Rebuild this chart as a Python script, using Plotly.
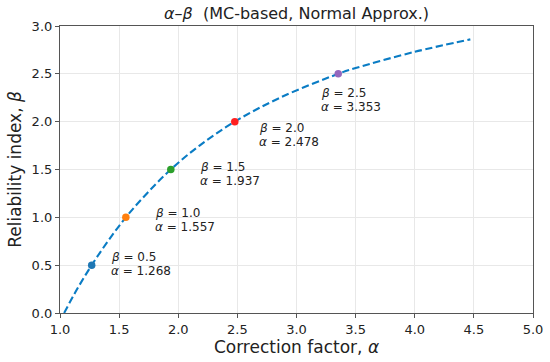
import plotly.graph_objects as go

# Curve
curve_beta = [0.0, 0.25, 0.5, 0.75, 1.0, 1.25, 1.5, 1.75, 2.0, 2.25, 2.5, 2.56, 2.73, 2.86]
curve_alpha = [1.035, 1.145, 1.268, 1.405, 1.557, 1.735, 1.937, 2.18, 2.478, 2.86, 3.353, 3.5, 4.0, 4.47]

# Highlighted points
pt_beta = [0.5, 1.0, 1.5, 2.0, 2.5]
pt_alpha = [1.268, 1.557, 1.937, 2.478, 3.353]
pt_colors = ["#1f77b4", "#ff7f0e", "#2ca02c", "#ff2020", "#9467bd"]

x_ticks = [1.0, 1.5, 2.0, 2.5, 3.0, 3.5, 4.0, 4.5, 5.0]
y_ticks = [0.0, 0.5, 1.0, 1.5, 2.0, 2.5, 3.0]

FONT = "DejaVu Sans"
W, H = 550, 362
L, R, T, B = 59.5, 16.5, 26, 48.5

fig = go.Figure()
fig.add_trace(go.Scatter(
    x=curve_alpha, y=curve_beta, mode="lines",
    line=dict(color="#0a7cc4", width=2.1, dash="7.4px,3.4px", shape="spline", smoothing=1.0),
    showlegend=False, hoverinfo="skip"))

for a, b, c in zip(pt_alpha, pt_beta, pt_colors):
    fig.add_trace(go.Scatter(x=[a], y=[b], mode="markers",
                             marker=dict(color=c, size=7.5), showlegend=False))

# label offsets (pixels): dx to text left, dy of text block centre below point
offsets = [(17.5, -1), (27, 3), (27, 4), (22, 13), (-19.5, 26)]
for a, b, (dx, dy) in zip(pt_alpha, pt_beta, offsets):
    for line_txt, ly in ((f"<i>β</i> = {b:.1f}", dy - 7), (f"<i>α</i> = {a:.3f}", dy + 7)):
        fig.add_annotation(
            x=a, y=b, xref="x", yref="y", text=line_txt,
            showarrow=False, xanchor="left", yanchor="middle", align="left",
            xshift=dx, yshift=-ly,
            font=dict(family=FONT, size=12, color="#222222"))

axis_common = dict(
    showline=True, linecolor="#555555", linewidth=1.2, mirror=True,
    ticks="outside", ticklen=4, tickcolor="#555555", tickwidth=1,
    showgrid=True, gridcolor="#e8e8e8", gridwidth=1, zeroline=False,
    tickfont=dict(family=FONT, size=13, color="#222222"),
    automargin=False,
)

fig.update_xaxes(range=[1.0, 5.0], tickvals=x_ticks,
                 ticktext=[f"{v:.1f}" for v in x_ticks],
                 title=dict(text="Correction factor, <i>α</i>", standoff=4,
                            font=dict(family=FONT, size=17, color="#222222")),
                 **axis_common)
fig.update_yaxes(range=[0.0, 3.0], tickvals=y_ticks,
                 ticktext=[f"{v:.1f}" for v in y_ticks],
                 title=dict(text="Reliability index, <i>β</i>", standoff=5,
                            font=dict(family=FONT, size=17, color="#222222")),
                 **axis_common)

fig.update_layout(
    width=W, height=H,
    margin=dict(l=L, r=R, t=T, b=B),
    paper_bgcolor="white", plot_bgcolor="white",
    title=dict(text="<i>α</i>–<i>β</i>  (MC-based, Normal Approx.)",
               x=(L + (W - R)) / 2 / W, xanchor="center",
               y=1 - 13 / H, yanchor="middle", automargin=False,
               font=dict(family=FONT, size=16, color="#222222")),
)

fig.write_html("out.html",
               config={"displayModeBar": False},
               post_script="document.body.style.margin='0';document.body.style.overflow='hidden';")
